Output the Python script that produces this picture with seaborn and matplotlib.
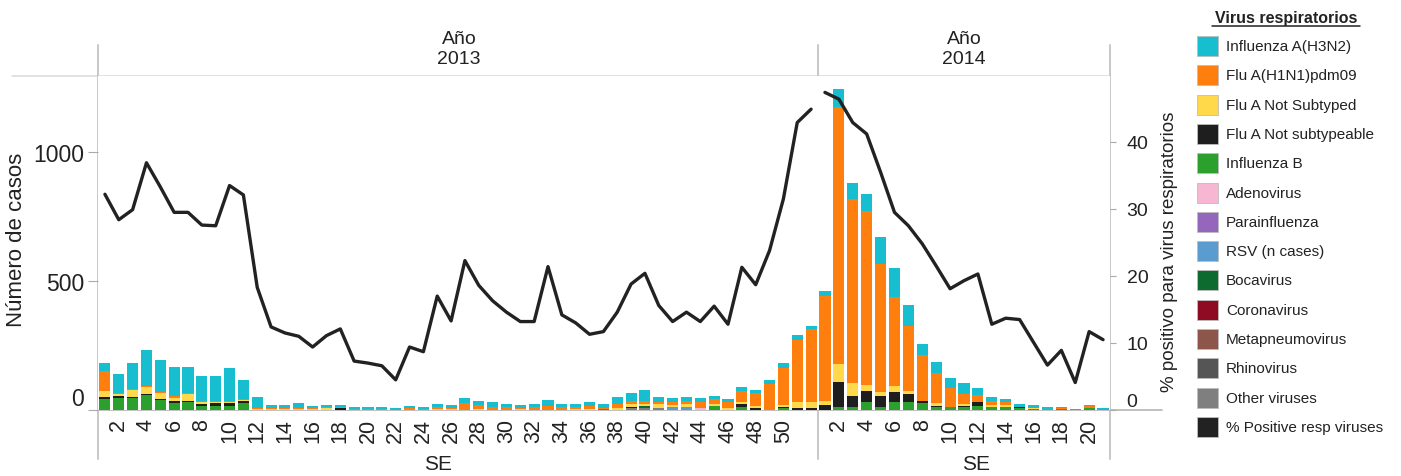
import numpy as np
import pandas as pd
import matplotlib
matplotlib.use("Agg")
import matplotlib.pyplot as plt
from matplotlib.lines import Line2D
from matplotlib.patches import Rectangle
import seaborn as sns

# ---------------- data ----------------
weeks_2013 = list(range(1, 53))
weeks_2014 = list(range(1, 22))
ticks_2013 = [2, 4, 6, 8, 10, 12, 14, 16, 18, 20, 22, 24, 26, 28, 30, 32, 34, 36, 38, 40,
              42, 44, 46, 48, 50]
ticks_2014 = [2, 4, 6, 8, 10, 12, 14, 16, 18, 20]

h3n2_2013 = [30, 72, 100, 140, 127, 114, 101, 96, 97, 127, 71, 43, 13, 13, 18, 8, 7, 8, 10, 10,
             10, 6, 8, 9, 13, 12, 19, 16, 20, 15, 10, 13, 24, 13, 13, 17, 17, 30, 30, 41,
             20, 13, 17, 13, 14, 9, 16, 14, 16, 17, 19, 13]
h1n1_2013 = [78, 5, 4, 5, 4, 6, 6, 5, 4, 4, 4, 5, 4, 4, 5, 3, 4, 5, 2, 2,
             2, 0, 6, 4, 10, 5, 26, 16, 12, 10, 4, 12, 16, 12, 10, 10, 5, 16, 13, 10,
             10, 13, 10, 23, 16, 26, 43, 49, 100, 145, 240, 282]
notsub_2013 = [22, 8, 25, 26, 21, 14, 27, 8, 3, 2, 5, 4, 2, 2, 3, 3, 8, 2, 0, 0,
               0, 0, 0, 0, 2, 2, 0, 3, 0, 0, 5, 0, 0, 0, 2, 5, 0, 6, 9, 8,
               13, 9, 13, 0, 8, 6, 10, 9, 0, 8, 26, 23]
nonsubable_2013 = [9, 9, 7, 5, 4, 5, 4, 5, 12, 12, 8, 0, 0, 0, 0, 0, 0, 6, 0, 0,
                   0, 0, 0, 0, 0, 0, 0, 0, 0, 0, 0, 0, 0, 0, 0, 0, 0, 0, 7, 0,
                   0, 0, 0, 0, 0, 0, 9, 6, 0, 5, 6, 9]
infb_2013 = [43, 45, 45, 58, 39, 28, 30, 17, 16, 16, 27, 0, 0, 0, 0, 0, 0, 0, 0, 0,
             0, 0, 0, 0, 0, 0, 0, 0, 0, 0, 0, 0, 0, 0, 0, 0, 3, 0, 0, 0,
             0, 0, 0, 0, 17, 0, 13, 0, 0, 6, 0, 0]
adeno_2013 = [0] * 43 + [9] + [0] * 8
rsv_2013 = [0] * 41 + [10, 12] + [0] * 9
boca_2013 = [0] * 39 + [10] + [0] * 12
other_2013 = [0] * 38 + [6, 7, 9] + [0] * 11

h3n2_2014 = [21, 70, 61, 69, 105, 114, 85, 45, 43, 40, 43, 26, 13, 12, 10, 10, 10, 5, 4, 6, 6]
h1n1_2014 = [405, 994, 715, 672, 494, 344, 251, 179, 118, 74, 39, 28, 17, 12, 0, 3, 0, 4, 0, 6, 0]
notsub_2014 = [17, 69, 52, 26, 18, 25, 10, 0, 12, 0, 6, 0, 6, 6, 0, 4, 0, 0, 0, 0, 0]
nonsubable_2014 = [19, 100, 43, 40, 43, 36, 31, 6, 4, 0, 6, 13, 0, 0, 6, 0, 0, 0, 0, 0, 0]
infb_2014 = [0, 10, 10, 32, 10, 32, 32, 27, 10, 10, 10, 17, 13, 13, 6, 2, 0, 4, 0, 9, 0]

pct_2013 = [32.2, 28.4, 29.9, 36.9, 33.3, 29.5, 29.5, 27.6, 27.5, 33.5, 32.1, 18.3, 12.4, 11.5,
            11.0, 9.4, 11.1, 12.1, 7.3, 7.0, 6.6, 4.5, 9.4, 8.7, 17.0, 13.3, 22.3, 18.6, 16.3,
            14.6, 13.2, 13.2, 21.4, 14.2, 13.0, 11.3, 11.7, 14.6, 18.8, 20.4, 15.6, 13.2, 14.6,
            13.2, 15.5, 12.8, 21.3, 18.7, 23.8, 31.5, 42.9, 44.9]
pct_2014 = [47.4, 46.4, 42.9, 41.2, 35.5, 29.5, 27.5, 24.8, 21.5, 18.1, 19.3, 20.3, 12.8, 13.7,
            13.5, 10.1, 6.7, 8.9, 4.1, 11.7, 10.5]

legend_labels = ["Influenza A(H3N2)", "Flu A(H1N1)pdm09", "Flu A Not Subtyped",
                 "Flu A Not subtypeable", "Influenza B", "Adenovirus", "Parainfluenza",
                 "RSV (n cases)", "Bocavirus", "Coronavirus", "Metapneumovirus",
                 "Rhinovirus", "Other viruses", "% Positive resp viruses"]
legend_colors = ["#17BECF", "#FF7F0E", "#FFD94A", "#1E1E1E", "#2CA02C", "#F7B6D2", "#9467BD",
                 "#5A9BD0", "#0E6B2F", "#8F0A23", "#8C564B", "#555555", "#7F7F7F", "#222222"]
palette = dict(zip(legend_labels, legend_colors))

series_2013 = {
    "Influenza A(H3N2)": h3n2_2013, "Flu A(H1N1)pdm09": h1n1_2013,
    "Flu A Not Subtyped": notsub_2013, "Flu A Not subtypeable": nonsubable_2013,
    "Influenza B": infb_2013, "Adenovirus": adeno_2013, "RSV (n cases)": rsv_2013,
    "Bocavirus": boca_2013, "Other viruses": other_2013,
}
series_2014 = {
    "Influenza A(H3N2)": h3n2_2014, "Flu A(H1N1)pdm09": h1n1_2014,
    "Flu A Not Subtyped": notsub_2014, "Flu A Not subtypeable": nonsubable_2014,
    "Influenza B": infb_2014,
}


def long_df(weeks, series):
    rows = []
    for name, vals in series.items():
        for w, v in zip(weeks, vals):
            rows.append({"week": w, "virus": name, "n": v})
    return pd.DataFrame(rows)


df13 = long_df(weeks_2013, series_2013)
df14 = long_df(weeks_2014, series_2014)

# ---------------- style ----------------
sns.set_style("white")
plt.rcParams["font.family"] = ["Liberation Sans", "DejaVu Sans"]
TXT = "#222222"
GRID = "#cfcfcf"

W, H = 1401, 477
fig = plt.figure(figsize=(W / 100, H / 100), dpi=100)


def fx(px):
    return px / W


def fy(py):
    return 1 - py / H


top_px, base_px = 77, 411
ax1 = fig.add_axes([fx(98), fy(base_px), (818 - 98) / W, (base_px - top_px) / H])
ax2 = fig.add_axes([fx(818), fy(base_px), (1110 - 818) / W, (base_px - top_px) / H])

YMAX = 1295
PMAX = 49.85

for ax, df, weeks, ticks in ((ax1, df13, weeks_2013, ticks_2013),
                             (ax2, df14, weeks_2014, ticks_2014)):
    order = [l for l in legend_labels if l in df["virus"].unique()]
    sns.histplot(data=df, x="week", weights="n", hue="virus", hue_order=order,
                 multiple="stack", discrete=True, shrink=0.8, palette=palette,
                 alpha=1, linewidth=0, legend=False, ax=ax)
    ax.set_xlim(0.5, len(weeks) + 0.5)
    ax.set_ylim(0, YMAX)
    for s in ax.spines.values():
        s.set_visible(False)
    ax.set_xlabel("")
    ax.set_ylabel("")
    ax.set_xticks(ticks)
    ax.set_xticklabels([str(w) for w in ticks], rotation=90, fontsize=15.5, color=TXT)
    ax.tick_params(axis="x", length=3, color=GRID, pad=3)

ax1.set_yticks([0, 500, 1000])
ax1.set_yticklabels(["0", "500", "1000"], fontsize=16.5, color=TXT)
ax1.tick_params(axis="y", length=7, color="#aaaaaa", pad=3)
ax1.get_yticklabels()[0].set_verticalalignment("bottom")
ax2.set_yticks([])

# line (% positive)
ax1t = ax1.twinx()
ax2t = ax2.twinx()
sns.lineplot(x=weeks_2013, y=pct_2013, ax=ax1t, color="#222222", linewidth=2.4)
sns.lineplot(x=weeks_2014, y=pct_2014, ax=ax2t, color="#222222", linewidth=2.4)
for axt in (ax1t, ax2t):
    axt.set_ylim(0, PMAX)
    for s in axt.spines.values():
        s.set_visible(False)
    axt.set_ylabel("")
ax1t.set_yticks([])
ax2t.set_yticks([0, 10, 20, 30, 40])
ax2t.set_yticklabels(["0", "10", "20", "30", "40"], fontsize=14, color=TXT)
ax2t.tick_params(axis="y", length=4, color="#aaaaaa", pad=8)
ax2t.get_yticklabels()[0].set_verticalalignment("bottom")

# frame lines (Tableau-like)
def fline(x0, y0, x1, y1, color=GRID, lw=1.3):
    fig.add_artist(Line2D([fx(x0), fx(x1)], [fy(y0), fy(y1)], color=color, lw=lw,
                          transform=fig.transFigure, zorder=0))

fline(12, top_px, 1110, top_px, color="#dddddd", lw=1.2)
for xv in (98, 818, 1110):
    fline(xv, 46, xv, 460, color="#c8c8c8", lw=1.4)
fline(98, base_px, 1162, base_px, color="#b5b5b5", lw=1.2)

# headers
for cx, yr in ((459, "2013"), (964, "2014")):
    fig.text(fx(cx), fy(40), "Año", ha="center", va="center", fontsize=14, color=TXT)
    fig.text(fx(cx), fy(60), yr, ha="center", va="center", fontsize=14, color=TXT)
fig.text(fx(438), fy(465), "SE", ha="center", va="center", fontsize=15, color=TXT)
fig.text(fx(976), fy(465), "SE", ha="center", va="center", fontsize=15, color=TXT)

fig.text(fx(17), fy(240), "Número de casos", rotation=90, ha="center", va="center",
         fontsize=16, color=TXT)
fig.text(fx(1170), fy(252), "% positivo para virus respiratorios", rotation=90,
         ha="center", va="center", fontsize=13.5, color=TXT)

# legend
fig.text(fx(1286), fy(19), "Virus respiratorios", ha="center", va="center",
         fontsize=11.5, fontweight="bold", color=TXT)
fig.add_artist(Line2D([fx(1212), fx(1360)], [fy(27), fy(27)], color=TXT, lw=1.1,
                      transform=fig.transFigure))
for i, (lab, col) in enumerate(zip(legend_labels, legend_colors)):
    yc = 47 + 29.3 * i
    fig.add_artist(Rectangle((fx(1197), fy(yc + 10)), 21 / W, 20 / H, facecolor=col,
                             edgecolor="#bdbdbd", lw=0.6, transform=fig.transFigure))
    fig.text(fx(1226), fy(yc), lab, ha="left", va="center", fontsize=11, color=TXT)

fig.savefig("out.png", dpi=100)
